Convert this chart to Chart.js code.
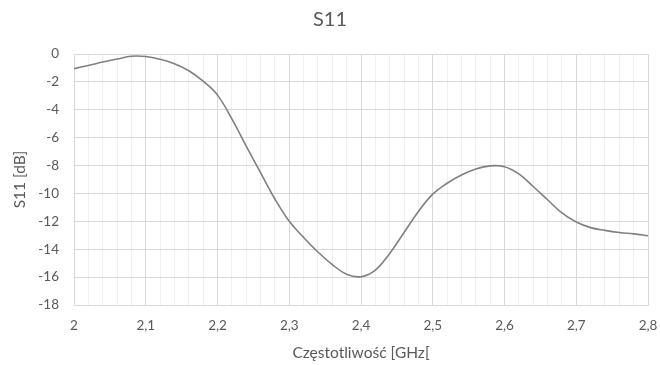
<!DOCTYPE html>
<html>
<head>
<meta charset="utf-8">
<script src="https://cdn.jsdelivr.net/npm/chart.js@4/dist/chart.umd.min.js"></script>
<style>
  html, body { margin: 0; padding: 0; background: #ffffff; }
  #wrap { width: 660px; height: 365px; position: relative; }
</style>
</head>
<body>
<div id="wrap"><canvas id="c"></canvas></div>
<script>
const chartTitle = "S11";
const xTitle = "Częstotliwość [GHz[";
const yTitle = "S11 [dB]";

const freqGHz = [2.00, 2.02, 2.04, 2.06, 2.08, 2.10, 2.12, 2.14, 2.16, 2.18,
                 2.20, 2.22, 2.24, 2.26, 2.28, 2.30, 2.32, 2.34, 2.36, 2.38,
                 2.40, 2.42, 2.44, 2.46, 2.48, 2.50, 2.52, 2.54, 2.56, 2.58,
                 2.60, 2.62, 2.64, 2.66, 2.68, 2.70, 2.72, 2.74, 2.76, 2.78, 2.80];
const s11dB = [-1.05, -0.82, -0.58, -0.36, -0.16, -0.18, -0.38, -0.70, -1.20, -1.95,
               -2.95, -4.65, -6.60, -8.50, -10.40, -12.00, -13.15, -14.20, -15.10, -15.80,
               -15.97, -15.50, -14.30, -12.80, -11.30, -10.05, -9.27, -8.68, -8.25, -8.02,
               -8.08, -8.60, -9.50, -10.45, -11.40, -12.05, -12.45, -12.65, -12.80, -12.90, -13.03];

const xMin = 2.0, xMax = 2.8, xMinorStep = 0.02;
const yMin = -18, yMax = 0, yStep = 2;

const points = freqGHz.map((f, i) => ({ x: f, y: s11dB[i] }));
const isMajorX = v => Math.abs(v * 10 - Math.round(v * 10)) < 1e-6;
const fontFamily = "Lato, 'Open Sans', 'Liberation Sans', sans-serif";
const textColor = "#595959";

new Chart(document.getElementById('c'), {
  type: 'scatter',
  data: {
    datasets: [{
      data: points,
      showLine: true,
      borderColor: '#808080',
      borderWidth: 1.6,
      pointRadius: 0,
      pointHoverRadius: 0,
      tension: 0.4,
      fill: false
    }]
  },
  options: {
    responsive: true,
    maintainAspectRatio: false,
    animation: false,
    layout: { padding: 0 },
    plugins: {
      legend: { display: false },
      tooltip: { enabled: false },
      title: {
        display: true,
        text: chartTitle,
        color: textColor,
        font: { family: fontFamily, size: 20, weight: 'normal' },
        padding: { top: 8, bottom: 22 }
      }
    },
    scales: {
      x: {
        type: 'linear',
        min: xMin,
        max: xMax,
        afterFit: s => { s.height = 60; s.paddingLeft = 0; s.paddingRight = 12; },
        ticks: {
          stepSize: xMinorStep,
          autoSkip: false,
          maxRotation: 0,
          padding: 13,
          color: textColor,
          font: { family: fontFamily, size: 13.5 },
          callback: v => isMajorX(v) ? String(Math.round(v * 10) / 10).replace('.', ',') : ''
        },
        grid: {
          drawTicks: false,
          color: ctx => (ctx.tick && isMajorX(ctx.tick.value)) ? '#d9d9d9' : '#efefef',
          lineWidth: 1
        },
        border: { display: true, color: '#d9d9d9' },
        title: {
          display: true,
          text: xTitle,
          color: textColor,
          font: { family: fontFamily, size: 15.5 },
          padding: { top: 0, bottom: 3 }
        }
      },
      y: {
        min: yMin,
        max: yMax,
        afterFit: s => { s.width = 74; },
        ticks: {
          stepSize: yStep,
          padding: 15,
          color: textColor,
          font: { family: fontFamily, size: 13.5 }
        },
        grid: { drawTicks: false, color: '#d9d9d9', lineWidth: 1 },
        border: { display: true, color: '#d9d9d9' },
        title: {
          display: true,
          text: yTitle,
          color: textColor,
          font: { family: fontFamily, size: 15.5 },
          padding: { top: 11, bottom: 0 }
        }
      }
    }
  }
});
</script>
</body>
</html>
